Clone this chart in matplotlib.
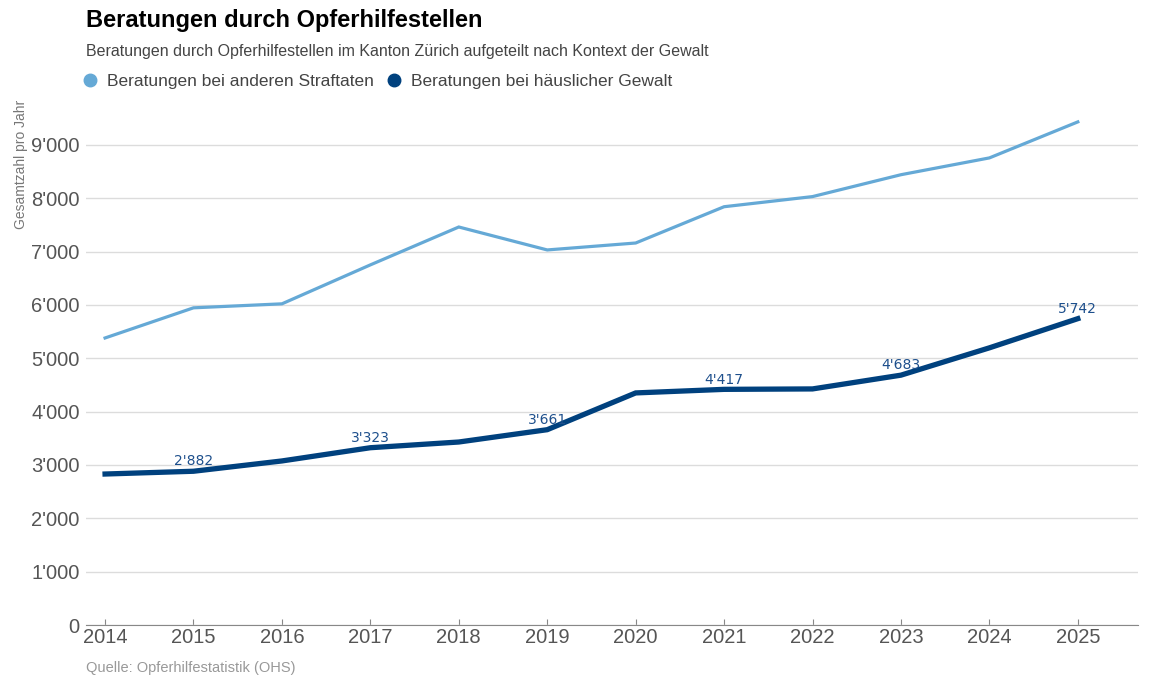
import matplotlib
matplotlib.use("Agg")
from matplotlib import pyplot as plt
from matplotlib.lines import Line2D
import numpy as np

plt.rcParams['font.family'] = ['Liberation Sans', 'DejaVu Sans']

# daten
jahre = [2014, 2015, 2016, 2017, 2018, 2019, 2020, 2021, 2022, 2023, 2024, 2025]
andere = [5380, 5945, 6020, 6750, 7460, 7030, 7160, 7840, 8030, 8440, 8755, 9430]
haeuslich = [2830, 2882, 3075, 3323, 3430, 3661, 4350, 4417, 4425, 4683, 5195, 5742]
label_jahre = [2015, 2017, 2019, 2021, 2023, 2025]

hell = "#65a9d6"
dunkel = "#00417e"

def tausender(v):
    return "{:,}".format(int(v)).replace(",", "'")

fig = plt.figure(figsize=(11.52, 6.91), dpi=100)
ax = fig.add_axes([0.0747, 0.0955, 0.9131, 0.7335])

ax.plot(jahre, andere, color=hell, lw=2.3, solid_joinstyle="miter")
ax.plot(jahre, haeuslich, color=dunkel, lw=3.8, solid_joinstyle="miter")

for j, v in zip(jahre, haeuslich):
    if j in label_jahre:
        ax.annotate(tausender(v), (j, v), xytext=(0, 2), textcoords="offset points",
                    ha="center", va="bottom", fontsize=10, color="#1d4f8c",
                    family="DejaVu Sans")

ax.set_xlim(2013.785, 2025.68)
ax.set_ylim(0, 9500)
ax.set_xticks(jahre)
ax.set_yticks(np.arange(0, 9001, 1000))
ax.set_yticklabels([tausender(v) for v in np.arange(0, 9001, 1000)])
ax.grid(axis="y", color="#dcdcdc", lw=1)
ax.set_axisbelow(True)
for s in ["top", "right", "left"]:
    ax.spines[s].set_visible(False)
ax.spines["bottom"].set_color("#888888")
ax.tick_params(axis="y", length=0, labelsize=14.5, labelcolor="#555555", pad=4.5)
ax.tick_params(axis="x", direction="in", length=4, color="#888888", labelsize=14.5,
               labelcolor="#555555", pad=2)

fig.text(0.0185, 0.855, "Gesamtzahl pro Jahr", rotation=90, va="top", ha="center",
         fontsize=10, color="#777777")

fig.text(0.0747, 0.971, "Beratungen durch Opferhilfestellen", fontsize=17, fontweight="bold",
         va="center", color="black")
fig.text(0.0747, 0.926, "Beratungen durch Opferhilfestellen im Kanton Zürich aufgeteilt nach Kontext der Gewalt",
         fontsize=11.5, va="center", color="#444444")

handles = [Line2D([], [], marker="o", ls="", color=hell, markersize=9),
           Line2D([], [], marker="o", ls="", color=dunkel, markersize=9)]
fig.legend(handles, ["Beratungen bei anderen Straftaten", "Beratungen bei häuslicher Gewalt"],
           loc="center left", bbox_to_anchor=(0.071, 0.882), ncol=2, frameon=False,
           fontsize=12.5, labelcolor="#444444", handlelength=1.0, handletextpad=0.48,
           columnspacing=0.65, borderaxespad=0, borderpad=0)

fig.text(0.0747, 0.033, "Quelle: Opferhilfestatistik (OHS)", fontsize=10.5, color="#999999", va="center")

fig.savefig("out.png", dpi=100)
